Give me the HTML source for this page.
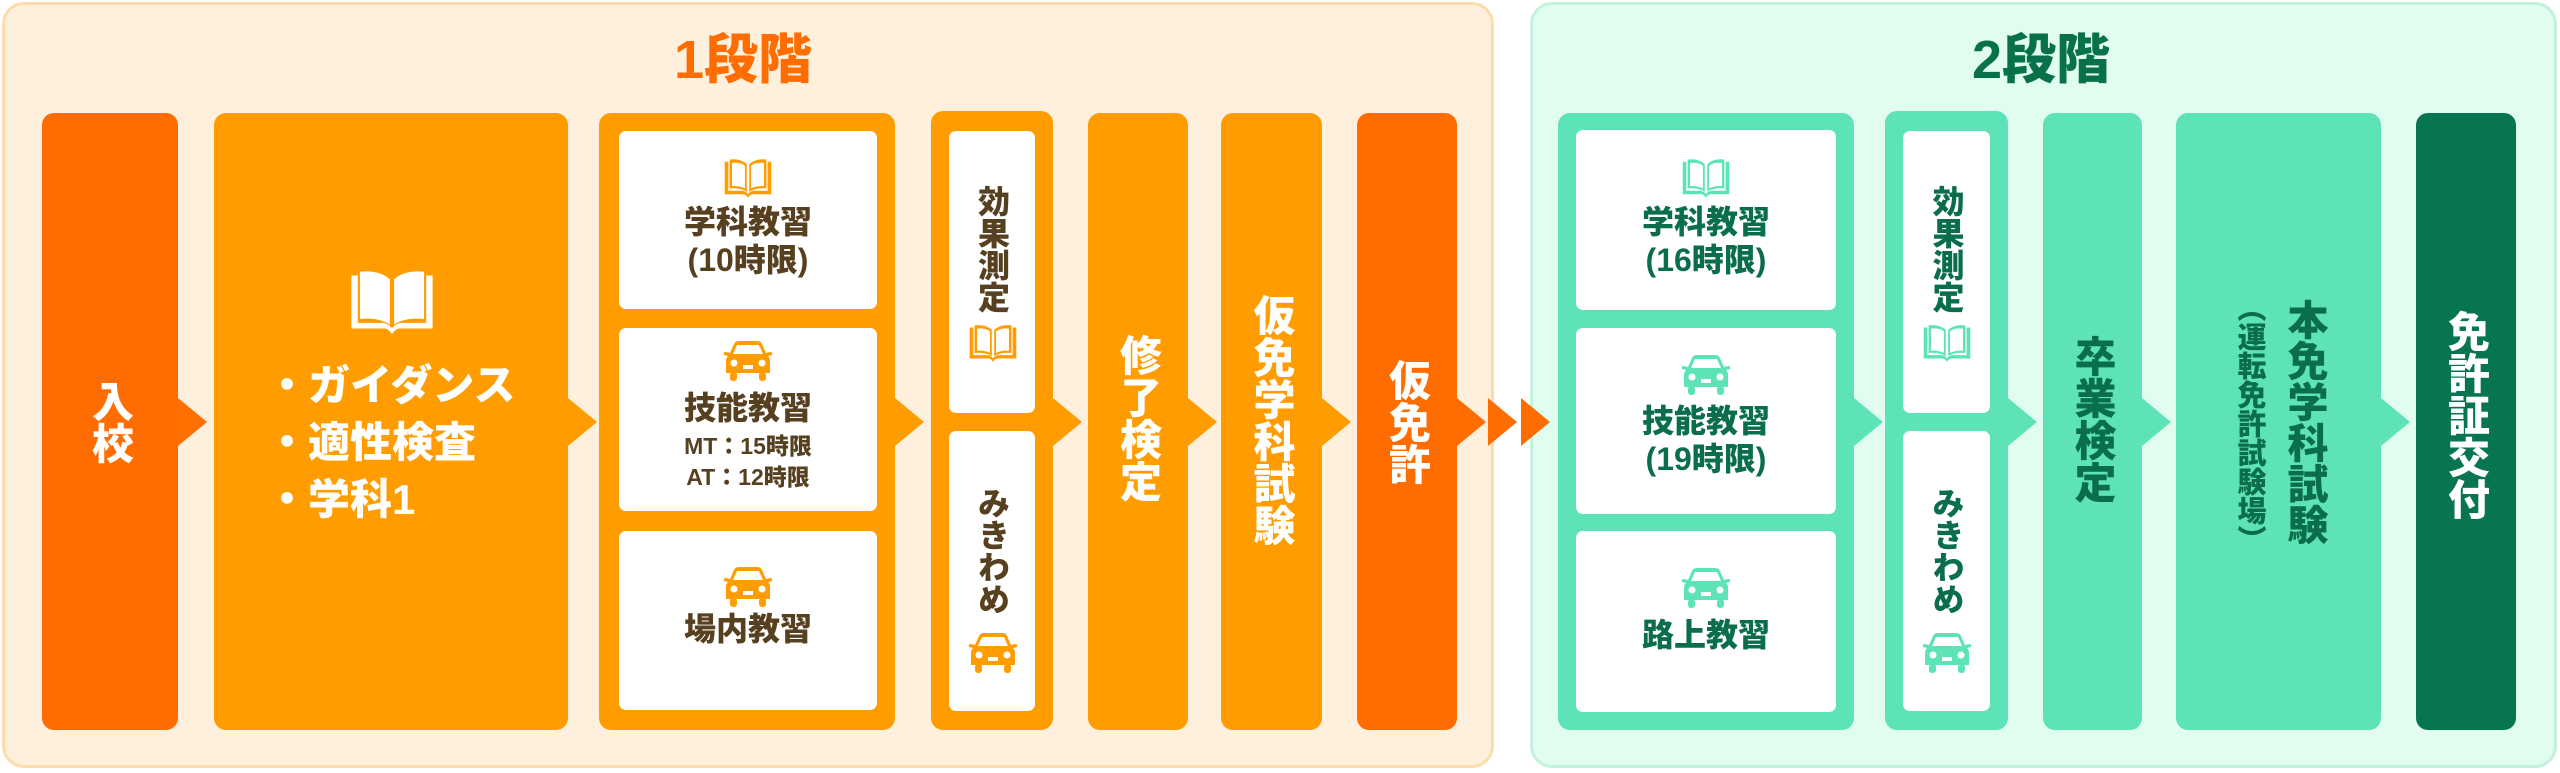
<!DOCTYPE html>
<html><head><meta charset="utf-8"><style>
*{margin:0;padding:0;box-sizing:border-box}
body{width:2560px;height:773px;background:#fff;position:relative;overflow:hidden;font-family:"Liberation Sans","Noto Sans CJK JP",sans-serif;font-weight:700}
.a{position:absolute}
.p1{left:2px;top:2px;width:1492px;height:766px;background:#fff0de;border:3px solid #fddcab;border-radius:22px}
.p2{left:1530px;top:2px;width:1027px;height:766px;background:#e0fdef;border:3px solid #c2f1dc;border-radius:22px}
.t{font-size:54px;font-weight:900;text-align:center;width:300px;top:28px;line-height:64px}
.col{border-radius:12px;top:113px;height:617px}
.w{background:#fff;border-radius:7px}
.v{writing-mode:vertical-rl;text-orientation:upright;font-weight:900;white-space:nowrap;display:flex;align-items:center;justify-content:center}
.tri{width:0;height:0;border-top:24px solid transparent;border-bottom:24px solid transparent;border-left-width:29px;border-left-style:solid;top:398px}
.c{text-align:center;font-weight:900}
.br{color:#56401f}.gr{color:#0a6e4a}
</style></head><body>
<div class="a p1"></div><div class="a p2"></div>
<div class="a t" style="left:593px;color:#ff6d00">1段階</div>
<div class="a t" style="left:1891px;color:#08714c">2段階</div>

<svg width="0" height="0" style="position:absolute"><defs>
<symbol id="book" viewBox="0 0 44 38"><path d="M3 5 L3 33 L19 33 Q21 34 22 36 Q23 34 25 33 L41 33 L41 5 L38 5 L38 30 L26 30 Q23 31 22 33 Q21 31 18 30 L6 30 L6 5Z M7 3 Q16 2 21 7 L21 31 Q16 27 7 28Z M37 3 Q28 2 23 7 L23 31 Q28 27 37 28Z" fill="currentColor"/><path d="M9 6 Q16 5 19.5 8.5 L19.5 28 Q15 25.5 9 26Z M35 6 Q28 5 24.5 8.5 L24.5 28 Q29 25.5 35 26Z" fill="#fff"/></symbol>
<symbol id="car" viewBox="0 0 52 42"><path d="M12 4 Q13 1 17 1 L35 1 Q39 1 40 4 L44 13 L48 12 Q51 12 50 15 L46 16 Q48 18 48 21 L48 33 L4 33 L4 21 Q4 18 6 16 L2 15 Q1 12 4 12 L8 13Z" fill="currentColor"/><path d="M15 5 L37 5 L41 14 L11 14Z" fill="#fff"/><circle cx="12" cy="23" r="3.5" fill="#fff"/><circle cx="40" cy="23" r="3.5" fill="#fff"/><rect x="21" y="25" width="10" height="4" fill="#fff"/><rect x="8" y="32" width="7" height="9" rx="3" fill="currentColor"/><rect x="37" y="32" width="7" height="9" rx="3" fill="currentColor"/></symbol>
</defs></svg>

<!-- stage 1 -->
<div class="a col v" style="left:42px;width:136px;background:#ff6d00;color:#fff;font-size:42px">入校</div>
<div class="a tri" style="left:178px;border-left-color:#ff7000"></div>
<div class="a col" style="left:214px;width:354px;background:#ff9d00"></div>
<svg class="a" style="left:345px;top:266px;color:#fff" width="94" height="72" preserveAspectRatio="none" viewBox="0 0 44 38"><use href="#book"/></svg>
<div class="a" style="left:266px;top:357px;color:#fff;font-size:42px;font-weight:900;line-height:57px">・ガイダンス<br>・適性検査<br>・学科1</div>
<div class="a tri" style="left:568px;border-left-color:#ff9d00"></div>

<div class="a col" style="left:599px;width:296px;background:#ff9d00"></div>
<div class="a w" style="left:619px;top:131px;width:258px;height:178px"></div>
<div class="a w" style="left:619px;top:328px;width:258px;height:183px"></div>
<div class="a w" style="left:619px;top:531px;width:258px;height:179px"></div>
<svg class="a" style="left:721px;top:156px;color:#ff9d00" width="54" height="44" preserveAspectRatio="none" viewBox="0 0 44 38"><use href="#book"/></svg>
<div class="a c br" style="left:619px;width:258px;top:203px;font-size:32px;line-height:38px">学科教習<br>(10時限)</div>
<svg class="a" style="left:722px;top:340px;color:#ff9d00" width="52" height="42"><use href="#car"/></svg>
<div class="a c br" style="left:619px;width:258px;top:389px;font-size:32px;line-height:38px">技能教習</div>
<div class="a c br" style="left:619px;width:258px;top:431px;font-size:23px;line-height:31px">MT：15時限<br>AT：12時限</div>
<svg class="a" style="left:722px;top:566px;color:#ff9d00" width="52" height="42"><use href="#car"/></svg>
<div class="a c br" style="left:619px;width:258px;top:610px;font-size:32px;line-height:38px">場内教習</div>
<div class="a tri" style="left:895px;border-left-color:#ff9d00"></div>

<div class="a col" style="left:931px;width:122px;background:#ff9d00;top:111px;height:619px"></div>
<div class="a w" style="left:949px;top:131px;width:86px;height:282px"></div>
<div class="a w" style="left:949px;top:431px;width:86px;height:280px"></div>
<div class="a v br" style="left:949px;width:86px;top:178px;height:142px;font-size:32px">効果測定</div>
<svg class="a" style="left:966px;top:322px;color:#ff9d00" width="54" height="42" preserveAspectRatio="none" viewBox="0 0 44 38"><use href="#book"/></svg>
<div class="a v br" style="left:949px;width:86px;top:484px;height:134px;font-size:32px">みきわめ</div>
<svg class="a" style="left:967px;top:632px;color:#ff9d00" width="52" height="42"><use href="#car"/></svg>
<div class="a tri" style="left:1053px;border-left-color:#ff9d00"></div>

<div class="a col v" style="left:1088px;width:100px;background:#ff9d00;color:#fff;font-size:42px;padding-bottom:8px">修了検定</div>
<div class="a tri" style="left:1188px;border-left-color:#ff9d00"></div>
<div class="a col v" style="left:1221px;width:101px;background:#ff9d00;color:#fff;font-size:42px;padding-bottom:4px">仮免学科試験</div>
<div class="a tri" style="left:1322px;border-left-color:#ff9d00"></div>
<div class="a col v" style="left:1357px;width:100px;background:#ff6d00;color:#fff;font-size:42px">仮免許</div>
<div class="a tri" style="left:1457px;border-left-color:#ff6d00"></div>
<div class="a tri" style="left:1488px;border-left-color:#ff6d00"></div>
<div class="a tri" style="left:1521px;border-left-color:#ff6d00"></div>

<!-- stage 2 -->
<div class="a col" style="left:1558px;width:296px;background:#5ee3b9"></div>
<div class="a w" style="left:1576px;top:130px;width:260px;height:180px"></div>
<div class="a w" style="left:1576px;top:328px;width:260px;height:186px"></div>
<div class="a w" style="left:1576px;top:531px;width:260px;height:181px"></div>
<svg class="a" style="left:1679px;top:156px;color:#5ee3b9" width="54" height="44" preserveAspectRatio="none" viewBox="0 0 44 38"><use href="#book"/></svg>
<div class="a c gr" style="left:1576px;width:260px;top:203px;font-size:32px;line-height:38px">学科教習<br>(16時限)</div>
<svg class="a" style="left:1680px;top:354px;color:#5ee3b9" width="52" height="42"><use href="#car"/></svg>
<div class="a c gr" style="left:1576px;width:260px;top:402px;font-size:32px;line-height:38px">技能教習<br>(19時限)</div>
<svg class="a" style="left:1680px;top:567px;color:#5ee3b9" width="52" height="42"><use href="#car"/></svg>
<div class="a c gr" style="left:1576px;width:260px;top:616px;font-size:32px;line-height:38px">路上教習</div>
<div class="a tri" style="left:1854px;border-left-color:#5ee3b9"></div>

<div class="a col" style="left:1885px;width:123px;background:#5ee3b9;top:111px;height:619px"></div>
<div class="a w" style="left:1903px;top:131px;width:87px;height:282px"></div>
<div class="a w" style="left:1903px;top:431px;width:87px;height:280px"></div>
<div class="a v gr" style="left:1903px;width:87px;top:178px;height:142px;font-size:32px">効果測定</div>
<svg class="a" style="left:1920px;top:322px;color:#5ee3b9" width="54" height="42" preserveAspectRatio="none" viewBox="0 0 44 38"><use href="#book"/></svg>
<div class="a v gr" style="left:1903px;width:87px;top:484px;height:134px;font-size:32px">みきわめ</div>
<svg class="a" style="left:1921px;top:632px;color:#5ee3b9" width="52" height="42"><use href="#car"/></svg>
<div class="a tri" style="left:2008px;border-left-color:#5ee3b9"></div>

<div class="a col v gr" style="left:2043px;width:99px;background:#5ee3b9;font-size:42px;padding-bottom:6px">卒業検定</div>
<div class="a tri" style="left:2142px;border-left-color:#5ee3b9"></div>
<div class="a col" style="left:2176px;width:205px;background:#5ee3b9"></div>
<div class="a v gr" style="left:2280px;top:290px;width:48px;height:264px;font-size:41px;line-height:48px">本免学科試験</div>
<div class="a v gr" style="left:2232px;top:290px;width:34px;height:266px;font-size:29px;line-height:34px">（運転免許試験場）</div>
<div class="a tri" style="left:2381px;border-left-color:#5ee3b9"></div>
<div class="a col v" style="left:2416px;width:100px;background:#077650;color:#fff;font-size:42px;padding-bottom:14px">免許証交付</div>
</body></html>
